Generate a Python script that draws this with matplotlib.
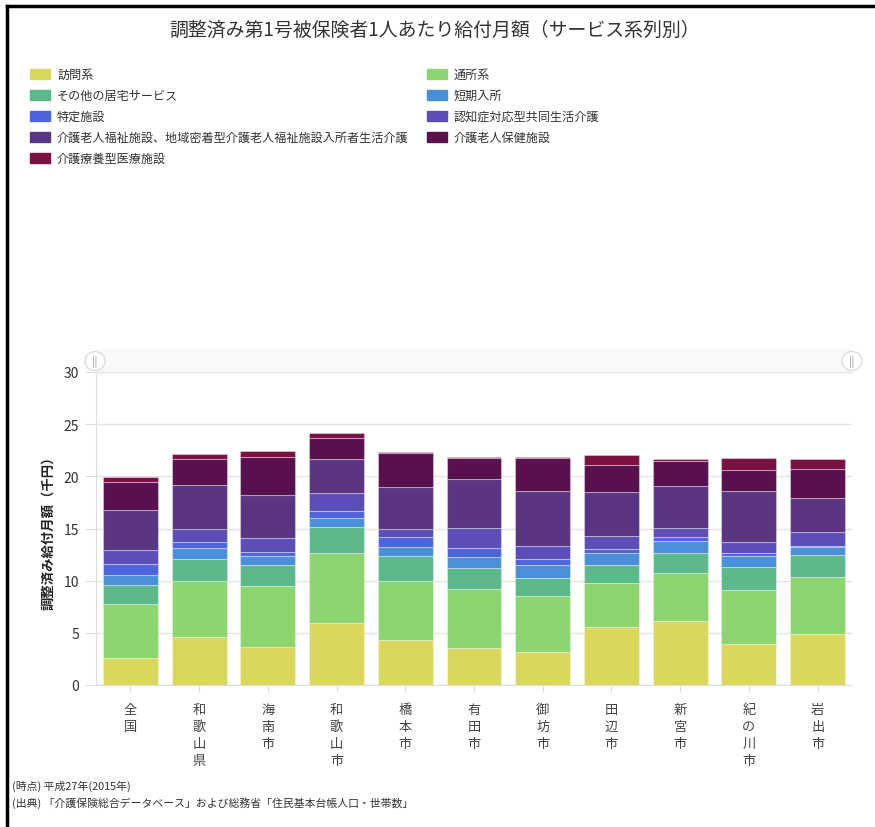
import matplotlib

matplotlib.use("Agg")
import matplotlib.pyplot as plt  # noqa: E402
import numpy as np  # noqa: E402
from matplotlib.patches import Circle, Rectangle  # noqa: E402

plt.rcParams["font.family"] = ["Noto Sans CJK JP", "DejaVu Sans"]

areas = ["全国", "和歌山県", "海南市", "和歌山市", "橋本市", "有田市",
         "御坊市", "田辺市", "新宮市", "紀の川市", "岩出市"]

# monthly benefit per insured person (thousand yen), by service type
houmon = [2.56, 4.57, 3.61, 5.91, 4.34, 3.51, 3.19, 5.52, 6.16, 3.93, 4.89]
tsusho = [5.20, 5.36, 5.90, 6.70, 5.65, 5.69, 5.30, 4.25, 4.57, 5.17, 5.48]
sonota = [1.82, 2.14, 2.01, 2.49, 2.40, 2.01, 1.73, 1.75, 1.88, 2.17, 2.08]
tanki = [0.96, 1.02, 0.87, 0.86, 0.80, 1.02, 1.30, 1.09, 1.21, 1.12, 0.74]
tokutei = [1.05, 0.58, 0.32, 0.74, 0.96, 0.89, 0.55, 0.42, 0.33, 0.22, 0.16]
ninchi = [1.34, 1.27, 1.37, 1.69, 0.79, 1.92, 1.28, 1.27, 0.86, 1.06, 1.28]
fukushi = [3.86, 4.22, 4.12, 3.26, 3.99, 4.69, 5.26, 4.22, 4.02, 4.94, 3.28]
hoken = [2.65, 2.46, 3.70, 1.98, 3.27, 1.98, 3.10, 2.55, 2.46, 1.98, 2.78]
ryoyo = [0.51, 0.54, 0.54, 0.51, 0.15, 0.10, 0.10, 0.96, 0.16, 1.15, 0.96]

series = [
    ("訪問系", houmon, "#d9d85c"),
    ("通所系", tsusho, "#8cd56f"),
    ("その他の居宅サービス", sonota, "#5bb98a"),
    ("短期入所", tanki, "#4a90d8"),
    ("特定施設", tokutei, "#4e64df"),
    ("認知症対応型共同生活介護", ninchi, "#5c4eb6"),
    ("介護老人福祉施設、地域密着型介護老人福祉施設入所者生活介護", fukushi, "#5a3581"),
    ("介護老人保健施設", hoken, "#58104f"),
    ("介護療養型医療施設", ryoyo, "#7b1043"),
]

fig = plt.figure(figsize=(8.75, 8.28), dpi=100)

# frame lines (top and left)
fig.add_artist(plt.Line2D([7 / 875, 1], [1 - 7 / 828, 1 - 7 / 828], color="black", lw=2.5))
fig.add_artist(plt.Line2D([7 / 875, 7 / 875], [0, 1 - 7 / 828], color="black", lw=2.5))

fig.text(435 / 875, 1 - 30 / 828, "調整済み第1号被保険者1人あたり給付月額（サービス系列別）",
         ha="center", va="center", fontsize=13.6, color="#333333")

# legend in two columns
for i, (name, _, color) in enumerate(series):
    col, row = i % 2, i // 2
    x0 = 30 if col == 0 else 427
    yc = 75 + row * 21
    fig.add_artist(Rectangle((x0 / 875, 1 - (yc + 5) / 828), 20 / 875, 10 / 828,
                             transform=fig.transFigure, color=color))
    fig.text((x0 + 27) / 875, 1 - yc / 828, name, ha="left", va="center",
             fontsize=8.7, color="#333333")

# scrollbar band above the plot
fig.add_artist(Rectangle((96 / 875, 1 - 373 / 828), 756 / 875, 23 / 828,
                         transform=fig.transFigure, facecolor="#f9f9f9",
                         edgecolor="none"))
fig.add_artist(plt.Line2D([96 / 875, 852 / 875], [1 - 373 / 828, 1 - 373 / 828],
                          color="#e6e6e6", lw=1))
for cx in (95, 852):
    fig.add_artist(Circle((cx / 875, 1 - 362 / 828), 10 / 875, transform=fig.transFigure,
                          facecolor="white", edgecolor="#dddddd", lw=1))
    fig.text(cx / 875, 1 - 362 / 828, "||", ha="center", va="center",
             fontsize=7, color="#888888")

ax = fig.add_axes([96 / 875, 1 - 686 / 828, 756 / 875, (686 - 373) / 828])
x = np.arange(len(areas))
bottom = np.zeros(len(areas))
for name, vals, color in series:
    ax.bar(x, vals, width=0.8, bottom=bottom, color=color,
           edgecolor=(1, 1, 1, 0.35), linewidth=0.8)
    bottom += np.array(vals)

ax.set_xlim(-0.5, len(areas) - 0.5)
ax.set_ylim(0, 30)
ax.set_yticks(range(0, 31, 5))
ax.yaxis.grid(True, color="#e5e5e5", lw=1)
ax.set_axisbelow(True)
for side in ("top", "right"):
    ax.spines[side].set_visible(False)
ax.spines["left"].set_color("#dddddd")
ax.spines["bottom"].set_color("#dddddd")
ax.tick_params(axis="y", colors="#dddddd", labelcolor="#333333", labelsize=10,
               length=8, pad=4)
ax.tick_params(axis="x", colors="#dddddd", labelcolor="#444444", labelsize=9.5,
               length=5, pad=8)
ax.set_xticks(x)
ax.set_xticklabels(["\n".join(a) for a in areas], linespacing=1.4, va="top")
ax.set_ylabel("調整済み給付月額（千円）", fontsize=9.6, fontweight="bold",
              color="#222222", labelpad=6)

fig.text(12 / 875, 1 - 786 / 828, "(時点) 平成27年(2015年)", ha="left", va="center",
         fontsize=7.8, color="#333333")
fig.text(12 / 875, 1 - 803 / 828,
         "(出典) 「介護保険総合データベース」および総務省「住民基本台帳人口・世帯数」",
         ha="left", va="center", fontsize=7.8, color="#333333")

fig.savefig("out.png", dpi=100)
plt.close(fig)
